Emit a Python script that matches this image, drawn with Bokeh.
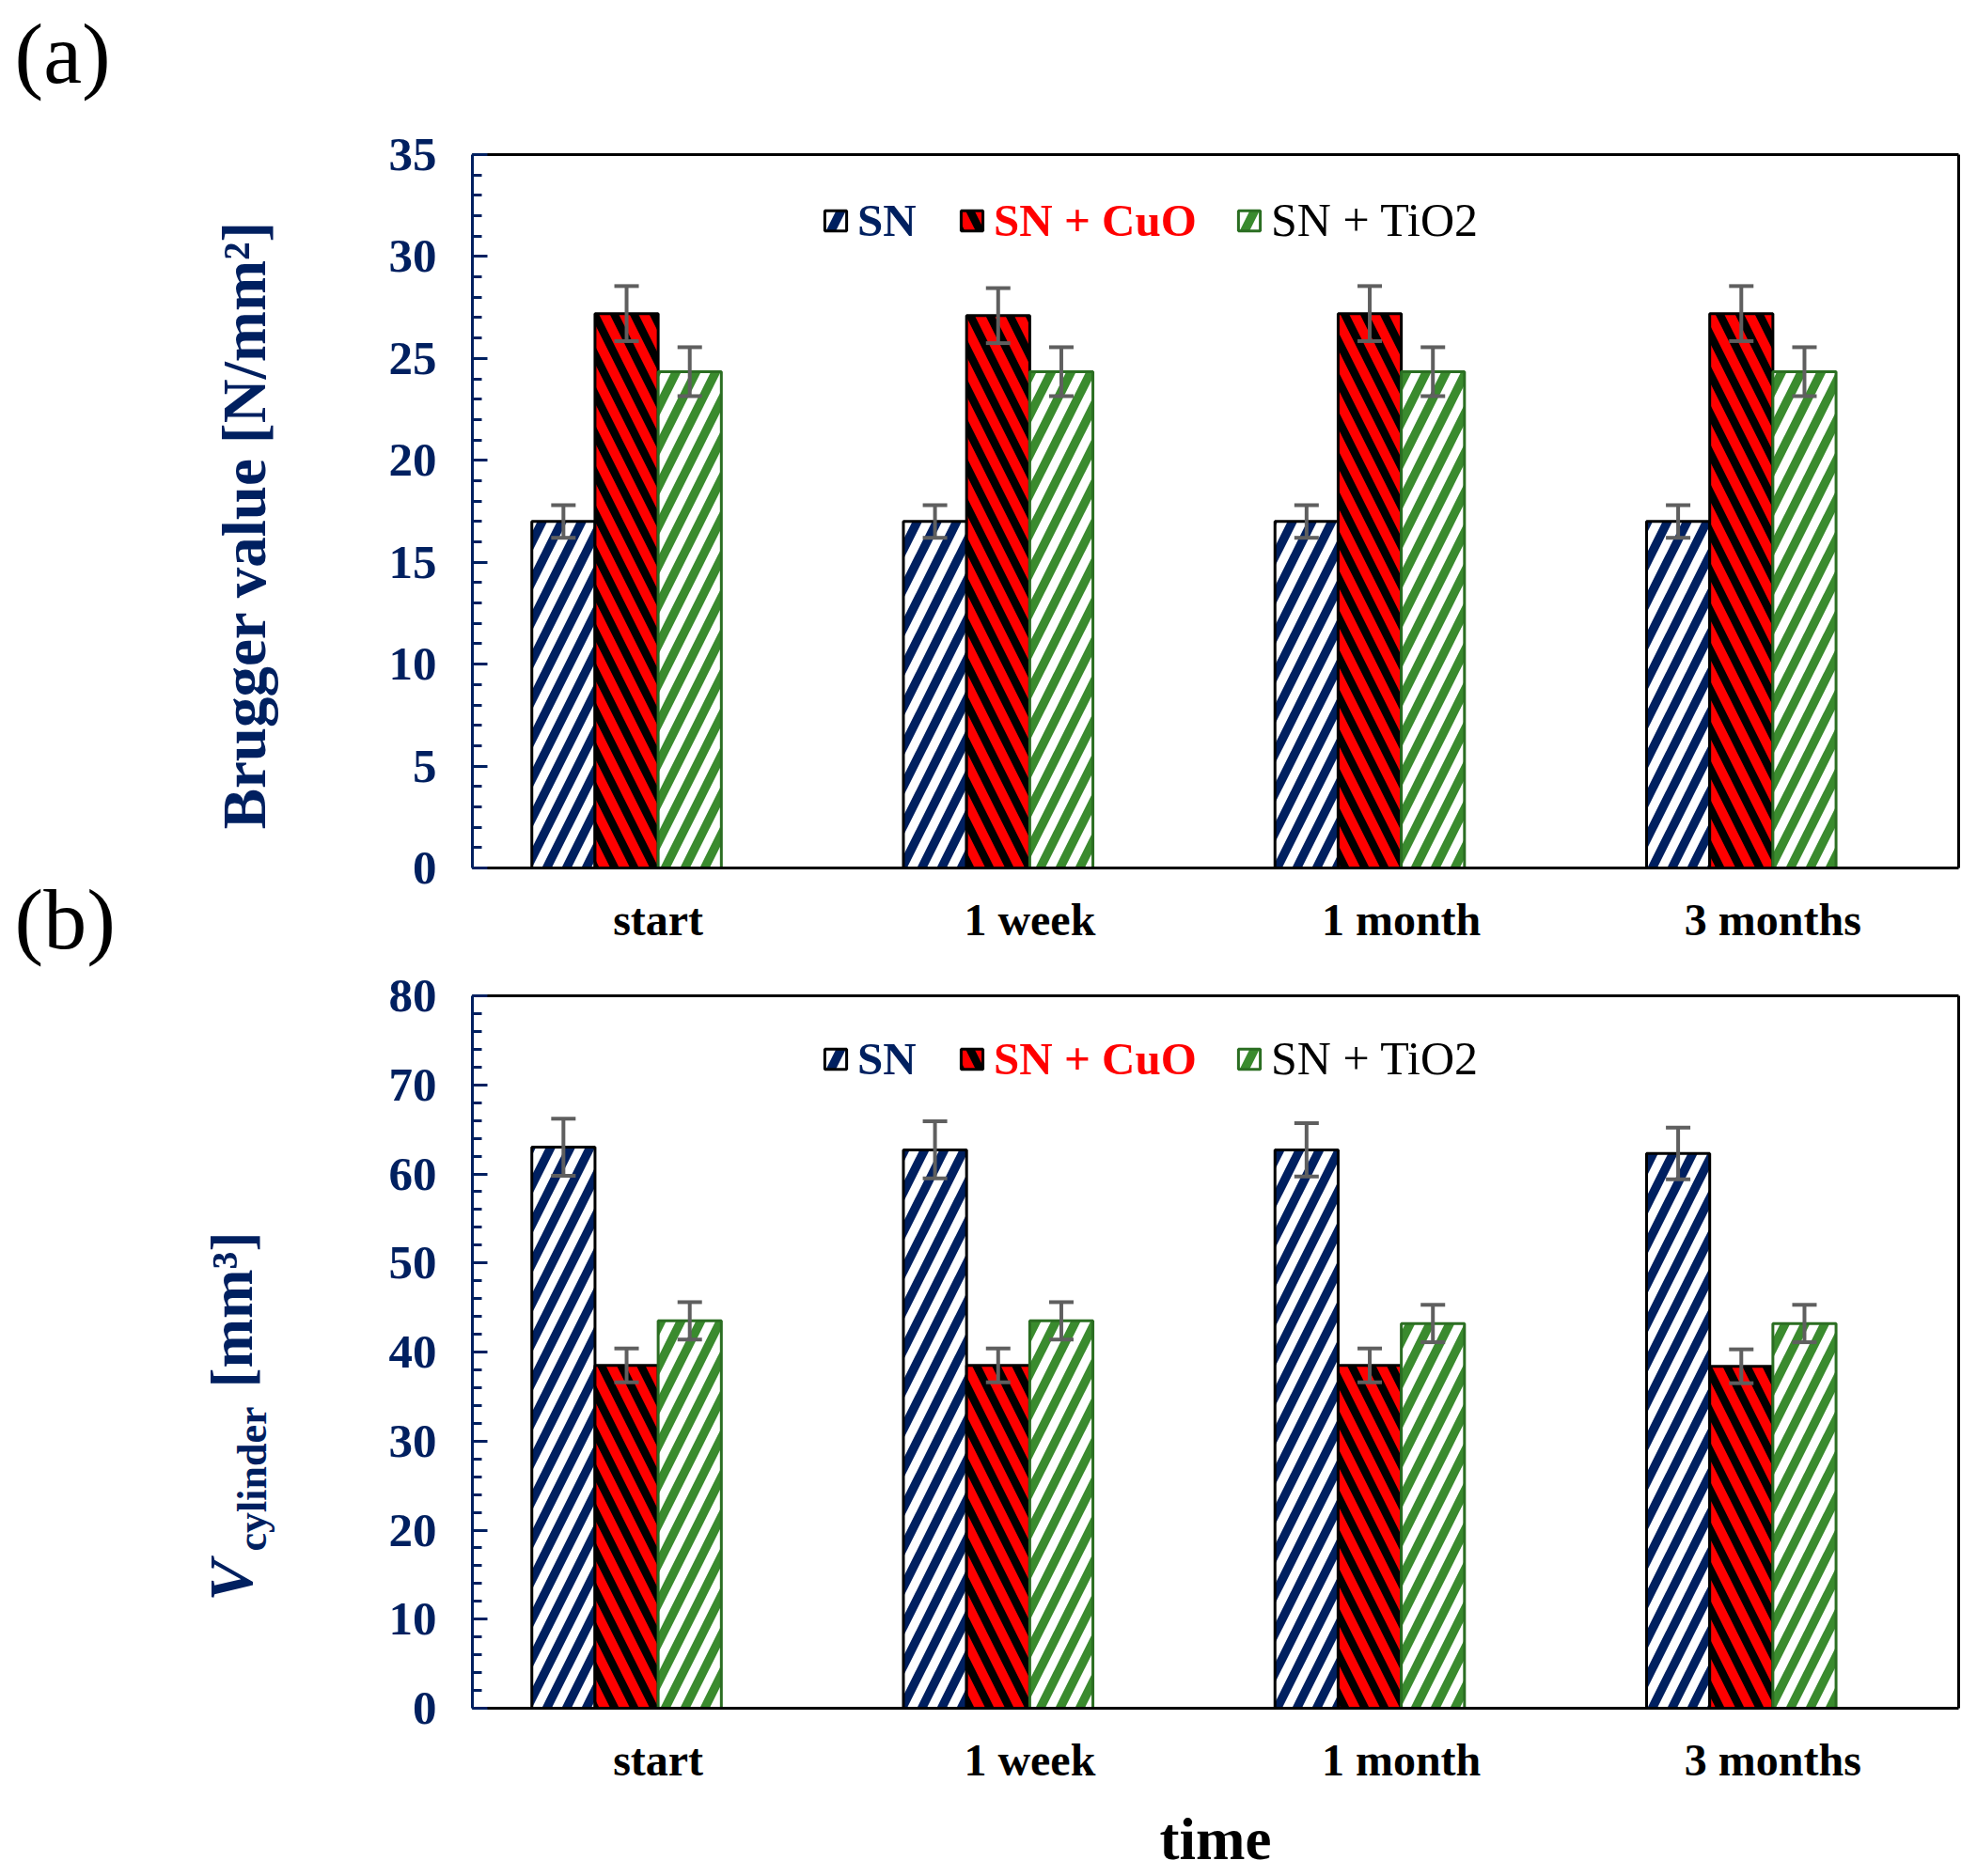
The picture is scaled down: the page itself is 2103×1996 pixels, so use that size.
from bokeh.plotting import figure
from bokeh.models import (ColumnDataSource, FactorRange, Range1d, Whisker, TeeHead, Legend,
                          LegendItem, LinearAxis, CategoricalAxis, SingleIntervalTicker)
from bokeh.transform import dodge
from bokeh.layouts import column, row
from bokeh.embed import file_html
from bokeh.resources import INLINE
from bokeh.core.properties import value

# ---------------- data ----------------
categories = ["start", "1 week", "1 month", "3 months"]
series_names = ["SN", "SN + CuO", "SN + TiO2"]

brugger_sn = [17.0, 17.0, 17.0, 17.0]
brugger_sn_err = [0.8, 0.8, 0.8, 0.8]
brugger_cuo = [27.2, 27.1, 27.2, 27.2]
brugger_cuo_err = [1.35, 1.35, 1.35, 1.35]
brugger_tio2 = [24.35, 24.35, 24.35, 24.35]
brugger_tio2_err = [1.2, 1.2, 1.2, 1.2]

vcyl_sn = [63.0, 62.7, 62.7, 62.3]
vcyl_sn_err = [3.2, 3.2, 3.0, 2.9]
vcyl_cuo = [38.5, 38.5, 38.5, 38.4]
vcyl_cuo_err = [1.9, 1.9, 1.9, 1.9]
vcyl_tio2 = [43.5, 43.5, 43.2, 43.2]
vcyl_tio2_err = [2.1, 2.1, 2.1, 2.1]

brugger_range = (0, 35)
brugger_tick_interval = 5
vcyl_range = (0, 80)
vcyl_tick_interval = 10

panel_letters = ["(a)", "(b)"]
x_title = "time"

# ---------------- style ----------------
SERIF = "Liberation Serif"
NAVY = "#002060"
RED = "#FF0000"
GREEN = "#3A8B2E"
GREEN_EDGE = "#2B6E22"
GRAY = "#5F5F5F"
LEFT_W = 328
MAIN_W = 1772
BAR_W = 0.17
OFFSETS = [-1.5 * BAR_W, -0.5 * BAR_W, 0.5 * BAR_W]

BAR_STYLES = [
    dict(fill_color=NAVY, line_color="black", hatch_pattern="right_diagonal_line",
         hatch_color="white", hatch_weight=9.5),
    dict(fill_color=RED, line_color="black", hatch_pattern="left_diagonal_line",
         hatch_color="black", hatch_weight=8.5),
    dict(fill_color=GREEN, line_color=GREEN_EDGE, hatch_pattern="right_diagonal_line",
         hatch_color="white", hatch_weight=9.5),
]
LEGEND_STYLES = [(NAVY, "bold", "49px", 372), (RED, "bold", "49px", 517),
                 ("black", "normal", "50px", 812)]


def make_panel(vals, errs, yr, interval, height, b_top, b_bottom, legend_y):
    p = figure(x_range=FactorRange(factors=categories, range_padding=0),
               y_range=Range1d(*yr), width=MAIN_W, height=height,
               output_backend="svg", toolbar_location=None,
               min_border_left=174, min_border_right=17,
               min_border_top=b_top, min_border_bottom=b_bottom)
    p.xgrid.visible = False
    p.ygrid.visible = False
    p.outline_line_color = None

    data = dict(cat=categories)
    for i in range(3):
        data[f"v{i}"] = vals[i]
        data[f"lo{i}"] = [v - e for v, e in zip(vals[i], errs[i])]
        data[f"hi{i}"] = [v + e for v, e in zip(vals[i], errs[i])]
    src = ColumnDataSource(data)

    renderers = []
    for i in range(3):
        r = p.vbar(x=dodge("cat", OFFSETS[i], range=p.x_range), top=f"v{i}", width=BAR_W,
                   source=src, line_width=3, hatch_scale=42, **BAR_STYLES[i])
        renderers.append(r)
    for i in range(3):
        w = Whisker(base=dodge("cat", OFFSETS[i], range=p.x_range), upper=f"hi{i}",
                    lower=f"lo{i}", source=src, line_color=GRAY, line_width=4, level="overlay",
                    upper_head=TeeHead(size=26, line_color=GRAY, line_width=4),
                    lower_head=TeeHead(size=26, line_color=GRAY, line_width=4))
        p.add_layout(w)

    ya = p.yaxis[0]
    ya.ticker = SingleIntervalTicker(interval=interval, num_minor_ticks=5)
    ya.axis_line_color = NAVY
    ya.axis_line_width = 3
    ya.major_tick_in = 16
    ya.major_tick_out = 0
    ya.minor_tick_in = 10
    ya.minor_tick_out = 0
    ya.major_tick_line_color = NAVY
    ya.minor_tick_line_color = NAVY
    ya.major_tick_line_width = 3
    ya.minor_tick_line_width = 3
    ya.major_label_standoff = 38
    ya.major_label_text_font = SERIF
    ya.major_label_text_font_size = "51px"
    ya.major_label_text_font_style = "bold"
    ya.major_label_text_color = NAVY

    xa = p.xaxis[0]
    xa.axis_line_color = "black"
    xa.axis_line_width = 3
    xa.major_tick_line_color = None
    xa.minor_tick_line_color = None
    xa.major_label_standoff = 22
    xa.major_label_text_font = SERIF
    xa.major_label_text_font_size = "48px"
    xa.major_label_text_font_style = "bold"
    xa.major_label_text_color = "black"

    ra = LinearAxis(axis_line_color="black", axis_line_width=3, major_tick_line_color=None,
                    minor_tick_line_color=None, major_label_text_font_size="0px",
                    major_label_text_color=None, major_label_standoff=0)
    p.add_layout(ra, "right")
    ta = CategoricalAxis(axis_line_color="black", axis_line_width=3, major_tick_line_color=None,
                         minor_tick_line_color=None, major_label_text_font_size="0px",
                         major_label_text_color=None, major_label_standoff=0)
    p.add_layout(ta, "above")

    for i in range(3):
        color, style, fsize, lx = LEGEND_STYLES[i]
        lg = Legend(items=[LegendItem(label=series_names[i], renderers=[renderers[i]])],
                    location=(lx, legend_y), orientation="horizontal", padding=0, margin=0,
                    border_line_color=None, background_fill_alpha=0,
                    glyph_width=29, glyph_height=27, label_standoff=9,
                    label_text_font=SERIF, label_text_font_size=fsize,
                    label_text_font_style=style, label_text_color=color,
                    label_text_baseline="alphabetic")
        p.add_layout(lg)
    return p


def blank_fig(w, h):
    f = figure(width=w, height=h, x_range=Range1d(0, w), y_range=Range1d(0, h),
               output_backend="svg", toolbar_location=None, x_axis_type=None, y_axis_type=None,
               min_border=0, min_border_left=0, min_border_right=0,
               min_border_top=0, min_border_bottom=0)
    f.outline_line_color = None
    f.xgrid.visible = False
    f.ygrid.visible = False
    return f


def put_text(f, x, y, text, size, style="bold", color=NAVY, angle=0.0, align="center"):
    f.text(x=[x], y=[y], text=[text], text_font=value(SERIF), text_font_size=size,
           text_font_style=style, text_color=color, angle=angle, angle_units="deg",
           text_align=align, text_baseline="middle")


pa = make_panel([brugger_sn, brugger_cuo, brugger_tio2],
                [brugger_sn_err, brugger_cuo_err, brugger_tio2_err],
                brugger_range, brugger_tick_interval, 1020, 164, 97, 660)
pb = make_panel([vcyl_sn, vcyl_cuo, vcyl_tio2],
                [vcyl_sn_err, vcyl_cuo_err, vcyl_tio2_err],
                vcyl_range, vcyl_tick_interval, 895, 39, 98, 662)

# left strip with panel letters and y titles (y measured up from its bottom)
LEFT_H = 1915
left = blank_fig(LEFT_W, LEFT_H)
put_text(left, 15, LEFT_H - 56, panel_letters[0], "92px", style="normal", color="black", align="left")
put_text(left, 15, LEFT_H - 977, panel_letters[1], "92px", style="normal", color="black", align="left")
put_text(left, 259, LEFT_H - 558, "Brugger value [N/mm\u00b2]", "65px", angle=90)
put_text(left, 245, LEFT_H - 1681, "V", "66px", style="bold italic", angle=90)
put_text(left, 268, LEFT_H - 1573, "cylinder", "44px", angle=90)
put_text(left, 246, LEFT_H - 1393, "[mm\u00b3]", "63px", angle=90)

# bottom strip with the x title
BOT_H = 75
bottom = blank_fig(LEFT_W + MAIN_W, BOT_H)
put_text(bottom, 1292.5, BOT_H - 41, x_title, "63px", color="black")

layout = column(row(left, column(pa, pb, spacing=0), spacing=0), bottom, spacing=0)
open("out.html", "w").write(file_html(layout, INLINE))
